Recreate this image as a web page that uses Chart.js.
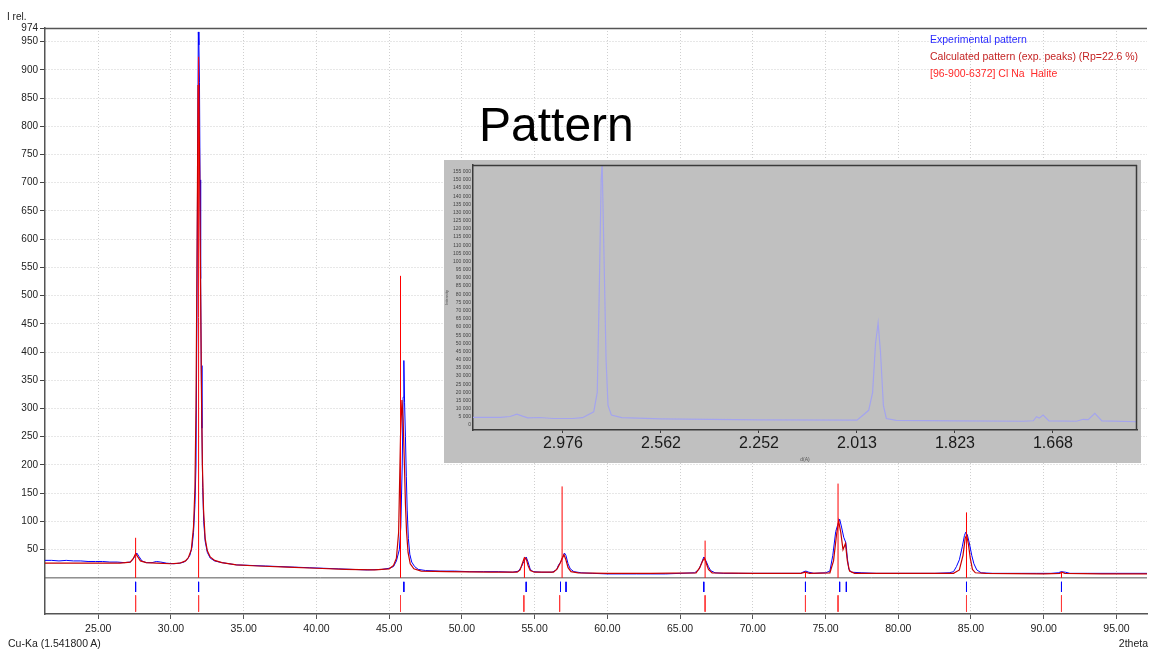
<!DOCTYPE html>
<html>
<head>
<meta charset="utf-8">
<script src="https://cdn.jsdelivr.net/npm/chart.js@4.4.1/dist/chart.umd.min.js"></script>
<style>
  html, body { margin: 0; padding: 0; background: #fff; }
  #page { position: relative; width: 1149px; height: 649px; overflow: hidden;
          font-family: "Liberation Sans", Arial, sans-serif; }
  .txt { position: absolute; font-size: 10.5px; color: #222; white-space: nowrap; line-height: 12px; }
  #inset { position: absolute; left: 444px; top: 160px; width: 697px; height: 303px; background: #c0c0c0; }
  #pattern { position: absolute; left: 479px; top: 101px; font-size: 48px; line-height: 48px; color: #000; }
</style>
</head>
<body>
<div id="page">
  <canvas id="xrd" width="1149" height="649"></canvas>
  <div class="txt" style="left:7px;top:11px;font-size:10px;">I rel.</div>
  <div class="txt" style="left:8px;top:637px;">Cu-Ka (1.541800 A)</div>
  <div class="txt" style="right:1px;top:637px;">2theta</div>
  <div class="txt" style="left:930px;top:33px;color:#2a2aff;">Experimental pattern</div>
  <div class="txt" style="left:930px;top:50px;color:#c42424;">Calculated pattern (exp. peaks) (Rp=22.6 %)</div>
  <div class="txt" style="left:930px;top:67px;color:#ff2a2a;">[96-900-6372] Cl Na&nbsp; Halite</div>
  <div id="pattern">Pattern</div>
  <div id="inset"><canvas id="dspace" width="697" height="303"></canvas></div>
</div>
<script>
// main pattern, 2theta (deg) vs relative intensity
const expTheta = [21.34,21.8,22.3,22.8,23.3,23.8,24.3,24.8,25.3,25.8,26.3,26.8,27.2,27.4,27.55,27.65,27.8,28.0,28.3,28.7,
  29.0,29.3,29.7,30.2,30.6,30.9,31.1,31.3,31.45,31.55,31.65,31.72,31.78,31.84,31.88,31.92,31.96,32.0,32.04,32.08,
  32.13,32.18,32.25,32.35,32.5,32.7,33.0,33.5,34.0,34.5,35.5,36.5,37.5,38.5,39.5,40.5,41.5,42.5,43.5,44.5,
  45.0,45.3,45.5,45.7,45.8,45.9,45.96,46.01,46.06,46.12,46.18,46.24,46.32,46.42,46.55,46.75,47.0,47.5,48.5,49.5,
  50.5,51.5,52.5,53.5,53.9,54.1,54.2,54.3,54.42,54.55,54.7,54.9,55.5,56.2,56.5,56.65,56.8,56.95,57.05,57.15,
  57.3,57.45,57.7,58.2,59,60,61,62,63,64,65,66.0,66.3,66.5,66.63,66.78,66.95,67.1,67.4,68,
  69,70,71,72,73.3,73.5,73.65,73.85,74.2,75.0,75.3,75.5,75.7,75.85,75.97,76.1,76.25,76.4,76.5,76.6,
  76.8,77.5,78.5,79.5,80.5,81.5,82.5,83.5,83.8,84.0,84.2,84.4,84.55,84.64,84.75,84.9,85.05,85.2,85.4,85.7,
  86.5,87.5,88.5,89.5,90.5,91.0,91.2,91.5,91.8,93,95,97.1];
const expInt = [31,31,30,31,30,30,29,29,29,28,28,27,28,33,40,44,38,30,27,27,
  29,28,26,25,26,28,32,40,55,80,130,200,450,770,967,944,878,705,530,376,
  265,160,100,65,45,35,30,27,25,23,22,21,20,19,18,17,16,15,14,15,
  17,20,30,50,90,200,320,385,310,250,180,120,70,42,28,20,15,13,12,12,
  11,11,11,10,12,20,26,30,37,28,15,11,10,10,14,23,28,38,44,40,
  25,16,11,9,8,7,7,7,7,7,8,9,15,28,37,30,20,13,9,8,
  8,8,8,8,8,11,12,10,8,9,12,40,82,95,104,90,72,62,35,15,
  10,9,8,8,8,8,8,9,11,20,32,55,75,81,76,60,40,25,14,9,
  8,8,8,8,8,9,11,10,8,8,8,8];

const calcTheta = [21.34,23,25,26.5,27.2,27.4,27.57,27.7,27.9,28.3,29,30,30.6,31.0,31.2,31.4,31.55,31.65,31.72,31.8,
  31.86,31.92,31.98,32.04,32.1,32.16,32.24,32.35,32.5,32.7,33.0,33.5,34.5,36,38,40,42,44,45.0,45.3,
  45.5,45.65,45.78,45.88,45.96,46.05,46.12,46.2,46.3,46.45,46.7,47.2,49,52,53.8,54.0,54.15,54.3,54.42,54.55,
  54.7,55.0,56.3,56.55,56.75,56.9,57.02,57.15,57.3,57.5,58,60,63,66.1,66.35,66.55,66.68,66.8,66.95,67.2,
  70,73.3,73.6,73.9,75.3,75.55,75.75,75.9,76.05,76.2,76.37,76.5,76.65,77,80,83.8,84.2,84.45,84.6,84.7,
  84.82,84.95,85.1,85.3,86,90,91.1,91.25,91.45,94,97.1];
const calcInt = [26,26,26,26,28,34,43,38,30,27,26,25,26,30,36,50,90,160,300,600,
  873,860,700,500,320,200,120,70,48,37,31,27,23,21,19,17,15,14,16,22,
  35,80,250,315,280,200,130,80,45,25,16,12,11,10,10,14,25,36,34,22,
  13,10,10,16,26,35,41,32,18,11,9,8,8,9,18,30,35,26,15,9,
  8,8,10,8,9,30,75,101,80,50,61,30,12,8,8,8,14,40,70,76,
  60,35,15,9,8,7,8,10,8,7,7];

// calculated peak sticks
const stickTheta = [27.57,31.90,45.78,54.30,56.89,66.72,73.62,75.86,84.69,91.22];
const stickInt = [71,923,535,36,162,66,11,167,116,10];

// peak position markers under the zero line
const expPeakTheta = [27.57,31.90,46.01,54.42,56.78,57.16,66.63,73.62,75.97,76.43,84.69,91.22];
const refPeakTheta = [27.57,31.90,45.78,54.26,56.72,66.72,73.62,75.86,84.69,91.22];

const xTickValues = [25,30,35,40,45,50,55,60,65,70,75,80,85,90,95];
const yTickValues = [50,100,150,200,250,300,350,400,450,500,550,600,650,700,750,800,850,900,950,974];

// inset: intensity vs 2theta, labelled in d (A)
const insetTheta = [25.41,26.8,27.3,27.65,27.9,28.2,28.8,29.5,30.5,31.0,31.57,31.75,31.85,31.95,32.0,32.1,32.2,32.3,32.47,33,
  35,40,45.0,45.32,45.6,45.8,45.95,46.08,46.2,46.35,46.5,47,50,53.5,54.0,54.16,54.3,54.5,54.8,56.2,
  56.54,56.8,57.14,57.5,59.29];
const insetInt = [4700,4700,5200,6700,5600,4400,4600,4000,4000,4500,8100,20000,80000,150000,160000,100000,40000,12000,6100,4500,
  3800,3200,3000,6100,9000,20000,50000,62400,45000,12000,4000,2800,2500,2300,2600,5100,4200,6100,2500,2300,
  3500,3300,7100,2500,2000];
const insetTickTheta = [30,35,40,45,50,55];
const insetTickLabels = ['2.976','2.562','2.252','2.013','1.823','1.668'];
const insetYTicks = [0,5000,10000,15000,20000,25000,30000,35000,40000,45000,50000,55000,60000,65000,70000,75000,
  80000,85000,90000,95000,100000,105000,110000,115000,120000,125000,130000,135000,140000,145000,150000,155000];

const FONT = '"Liberation Sans", Arial, sans-serif';

function pts(xs, ys) { return xs.map((x, i) => ({x: x, y: ys[i]})); }
function sticks(xs, y0, ys) {
  const out = [];
  xs.forEach((x, i) => { out.push({x: x, y: y0}, {x: x, y: ys[i]}, {x: x, y: null}); });
  return out;
}
function marks(xs, top, bottom) {
  const out = [];
  xs.forEach(x => { out.push({x: x, y: top}, {x: x, y: bottom}, {x: x, y: null}); });
  return out;
}

// draws frame lines the axes do not give us
const framePlugin = {
  id: 'frame',
  afterDatasetsDraw(chart, args, opts) {
    const a = chart.chartArea, ctx = chart.ctx;
    ctx.save();
    ctx.strokeStyle = opts.color || '#444';
    ctx.lineWidth = opts.width || 1;
    ctx.beginPath();
    if (opts.top) { ctx.moveTo(a.left, a.top + 0.5); ctx.lineTo(a.right, a.top + 0.5); }
    if (opts.right) { ctx.moveTo(a.right - 0.5, a.top); ctx.lineTo(a.right - 0.5, a.bottom); }
    ctx.stroke();
    ctx.restore();
  }
};

const line = (data, color, width) => ({
  data: data, borderColor: color, borderWidth: width, pointRadius: 0, tension: 0, fill: false, spanGaps: false
});

const xMin = 21.34, xMax = 97.1;

new Chart(document.getElementById('xrd'), {
  type: 'line',
  data: {
    datasets: [
      line(sticks(stickTheta, 0, stickInt), '#ff0000', 1),
      line(pts(calcTheta, calcInt), '#c80000', 1.2),
      line(pts(expTheta, expInt), '#0000ff', 1),
      line(marks(expPeakTheta, -7, -25), '#0000ff', 1),
      line(marks(refPeakTheta, -31, -60), '#ff3a3a', 1),
      line([{x: xMin, y: 0}, {x: xMax, y: 0}], '#555555', 1)
    ]
  },
  options: {
    responsive: false,
    animation: false,
    layout: { padding: { top: 28, right: 2, left: 0, bottom: 0 } },
    plugins: {
      legend: { display: false },
      tooltip: { enabled: false },
      frame: { top: true, color: '#555', width: 1.5 }
    },
    scales: {
      x: {
        type: 'linear', min: xMin, max: xMax,
        afterBuildTicks: s => { s.ticks = xTickValues.map(v => ({value: v})); },
        afterFit: s => { s.height = 35; },
        ticks: { callback: v => v.toFixed(2), color: '#222', font: { family: FONT, size: 10.5 }, padding: 4, maxRotation: 0 },
        grid: { color: '#cfcfcf', tickColor: '#555', tickLength: 5, tickBorderDash: [] },
        border: { color: '#555', width: 1.5, dash: [1, 2] }
      },
      y: {
        type: 'linear', min: -64, max: 974,
        afterBuildTicks: s => { s.ticks = yTickValues.map(v => ({value: v})); },
        afterFit: s => { s.width = 45; },
        ticks: { color: '#222', font: { family: FONT, size: 10 }, padding: 2 },
        grid: { color: '#cfcfcf', tickColor: '#444', tickLength: 5, tickBorderDash: [] },
        border: { color: '#555', width: 1.5, dash: [1, 2] }
      }
    }
  },
  plugins: [framePlugin]
});

new Chart(document.getElementById('dspace'), {
  type: 'line',
  data: { datasets: [ line(pts(insetTheta, insetInt), '#a4a4ee', 1.2) ] },
  options: {
    responsive: false,
    animation: false,
    layout: { padding: { top: 4, right: 4, left: 0, bottom: 0 } },
    plugins: {
      legend: { display: false },
      tooltip: { enabled: false },
      frame: { top: true, right: true, color: '#3a3a3a', width: 1.5 }
    },
    scales: {
      x: {
        type: 'linear', min: 25.41, max: 59.29,
        afterBuildTicks: s => { s.ticks = insetTickTheta.map(v => ({value: v})); },
        afterFit: s => { s.height = 33; },
        ticks: {
          callback: v => insetTickLabels[insetTickTheta.indexOf(v)],
          color: '#1a1a1a', font: { family: FONT, size: 16 }, padding: 1, maxRotation: 0
        },
        title: { display: true, text: 'd(A)', color: '#555', font: { family: FONT, size: 5 }, padding: 0 },
        grid: { drawOnChartArea: false, tickColor: '#3a3a3a', tickLength: 3 },
        border: { color: '#3a3a3a', width: 1.5 }
      },
      y: {
        type: 'linear', min: -3050, max: 159100,
        afterBuildTicks: s => { s.ticks = insetYTicks.map(v => ({value: v})); },
        afterFit: s => { s.width = 29; },
        ticks: {
          callback: v => String(v).replace(/\B(?=(\d{3})+(?!\d))/g, ' '),
          color: '#444', font: { family: FONT, size: 5 }, padding: 2, autoSkip: false
        },
        title: { display: true, text: 'Intensity', color: '#555', font: { family: FONT, size: 4 }, padding: 0 },
        grid: { drawOnChartArea: false, drawTicks: false },
        border: { color: '#3a3a3a', width: 1.5 }
      }
    }
  },
  plugins: [framePlugin]
});
</script>
</body>
</html>
